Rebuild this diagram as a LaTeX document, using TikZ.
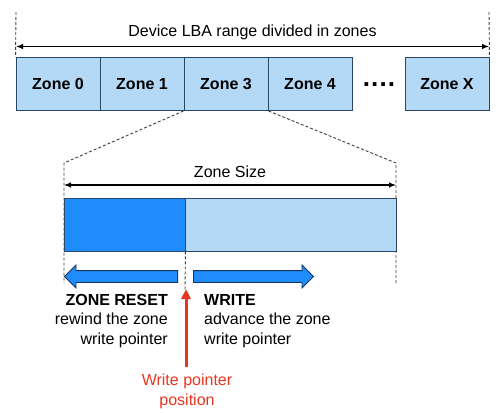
\documentclass[tikz,border=0pt]{standalone}
\usepackage{fontspec}
\setmainfont{Liberation Sans}
\usetikzlibrary{arrows.meta,shapes.arrows}
\definecolor{zfill}{HTML}{B4D9F7}
\definecolor{zdark}{HTML}{1E8CFB}
\definecolor{zline}{HTML}{2C4766}
\definecolor{aline}{HTML}{1B3160}
\definecolor{wred}{HTML}{E8351F}
\definecolor{gdash}{HTML}{404040}
\begin{document}
\begin{tikzpicture}[x=1pt,y=-1pt,
  every node/.style={font=\fontsize{16pt}{19.5pt}\selectfont, inner sep=0pt},
  zonebox/.style={draw=zline, line width=0.9pt, fill=zfill, minimum width=84pt, minimum height=53pt, font=\fontsize{16pt}{19.5pt}\selectfont\bfseries},
  barpart/.style={draw=zline, line width=0.9pt, minimum height=53pt},
  guide/.style={draw=gdash, line width=0.9pt, dash pattern=on 3pt off 2pt},
  span/.style={draw=black, line width=1.1pt, {Latex[length=7pt,width=5.5pt]}-{Latex[length=7pt,width=5.5pt]}},
  blockarrow/.style={single arrow, draw=aline, fill=zdark, line width=0.9pt, inner xsep=0pt, inner ysep=5.5pt, single arrow head extend=5.5pt, single arrow head indent=0pt, single arrow tip angle=90, anchor=tail},
  txt/.style={anchor=base},
  txtr/.style={anchor=base east},
  txtl/.style={anchor=base west}
]
\useasboundingbox (0,0) rectangle (500,412);

% guide end points
\coordinate (tl) at (16,12);
\coordinate (tr) at (489,12);
\coordinate (g1) at (64,163);
\coordinate (g2) at (396,163);
\coordinate (g1b) at (64,283);
\coordinate (g2b) at (396,283);
\coordinate (mb) at (185,290);

% zones
\node[zonebox] (z0) at (58,84) {Zone 0};
\node[zonebox] (z1) at (142,84) {Zone 1};
\node[zonebox] (z3) at (226,84) {Zone 3};
\node[zonebox] (z4) at (310,84) {Zone 4};
\node[font=\fontsize{26pt}{26pt}\selectfont\bfseries] (dots) at (379,84.7) {.\hspace{1.1pt}.\hspace{1.1pt}.\hspace{1.1pt}.};
\node[zonebox] (zx) at (447,84) {Zone X};

\draw[guide] (tl) -- (z0.north west);
\draw[guide] (tr) -- (zx.north east);
\draw[guide] (z3.south west) -- (g1) -- (g1b);
\draw[guide] (z3.south east) -- (g2) -- (g2b);

% top span
\coordinate (al) at (16,46.5);
\coordinate (ar) at (489,46.5);
\draw[span] (al) -- (ar);
\node[txt] (lba) at (252.5,37) {Device LBA range divided in zones};

% zone size bar
\node[barpart, fill=zdark, minimum width=121pt] (used) at (124.5,224.5) {};
\node[barpart, fill=zfill, minimum width=211pt] (free) at (290.5,224.5) {};
\draw[guide] (used.south east) -- (mb);

\coordinate (sl) at (64,185);
\coordinate (sr) at (396,185);
\draw[span] (sl) -- (sr);
\node[txt] (zsize) at (230,177) {Zone Size};

% block arrows
\node[blockarrow, minimum height=113pt, shape border rotate=180] (reset) at (178,276.5) {};
\node[blockarrow, minimum height=120pt] (write) at (193,276.5) {};

% texts
\node[txtr, font=\fontsize{16pt}{19.5pt}\selectfont\bfseries] (rt1) at (168,305) {ZONE RESET};
\node[txtr] (rt2) at (168,324.5) {rewind the zone};
\node[txtr] (rt3) at (168,344) {write pointer};
\node[txtl, font=\fontsize{16pt}{19.5pt}\selectfont\bfseries] (wt1) at (204,305) {WRITE};
\node[txtl] (wt2) at (204,324.5) {advance the zone};
\node[txtl] (wt3) at (204,344) {write pointer};

% write pointer
\coordinate (wp) at (186,367);
\coordinate (wpt) at (186,289);
\draw[wred, line width=3pt, -{Triangle[length=10pt,width=9pt]}] (wp) -- (wpt);
\node[txt, text=wred] (wpl1) at (187,385) {Write pointer};
\node[txt, text=wred] (wpl2) at (187,405) {position};
\end{tikzpicture}
\end{document}
